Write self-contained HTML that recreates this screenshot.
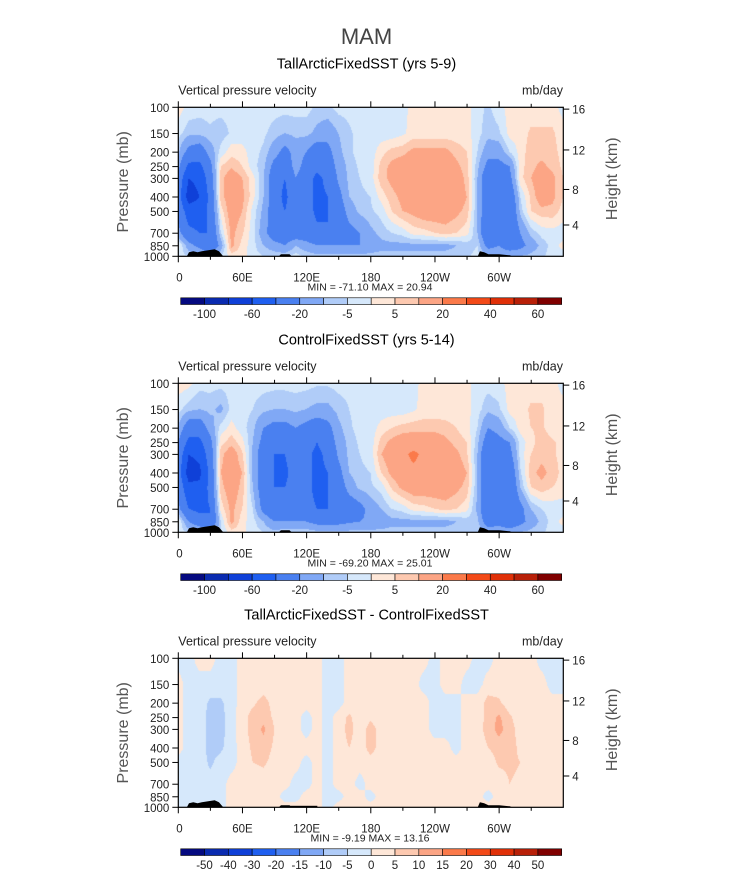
<!DOCTYPE html>
<html><head><meta charset="utf-8">
<style>
body{margin:0;background:#fff;width:733px;height:872px;overflow:hidden;position:relative;font-family:"Liberation Sans",sans-serif}
canvas{position:absolute}
svg{position:absolute;left:0;top:0}
</style></head>
<body>
<svg id="s" width="733" height="872"></svg>
<script>
const lons=[0,10,20,30,40,50,60,70,80,90,100,110,120,130,140,150,160,170,180,190,200,210,220,230,240,250,260,270,280,290,300,310,320,330,340,350,360];
const levels=[100,150,200,250,300,400,500,700,850,1000];
const levFull=[-100,-80,-60,-40,-20,-10,-5,0,5,10,20,30,40,50,60];
const levDiff=[-50,-40,-30,-20,-15,-10,-5,0,5,10,15,20,30,40,50];
const labFull=["-100","-60","-20","-5","5","20","40","60"];
const labFullIdx=[0,2,4,6,8,10,12,14];
const colors=["#050a80","#0a2bb0","#0f40d8","#1f5ff0","#4a80f0","#80a8f5","#b0ccf8","#d6e8fb","#fee7d8","#fdc9b0","#fca585","#fb7a4a","#f34a18","#e03008","#b82008","#800000"];
const xTicks=["0","60E","120E","180","120W","60W"];
const pTicks=[100,150,200,250,300,400,500,700,850,1000];
const hTicks=[4,8,12,16];
const stats=[["-71.10","20.94"],["-69.20","25.01"],["-9.19","13.16"]];
const p1=[
[3,-2,-3,-3,-3,-3,-3,-3,-3,-3,-3,-3,-3,-6,-6,-3,-3,-3,-2,-2,-2,-2,2,2,2,2,2,2,-3,-6,-2,2,2,2,2,2,-2],
[-3,-8,-8,-6,-8,-4,-3,-3,-4,-7,-10,-8,-8,-12,-15,-10,-6,-3,-3,-3,-3,-1,2,2,2,2,2,2,-3,-8,-6,2,2,6,6,6,2],
[-8,-25,-30,-15,-3,3,2,-3,-6,-15,-25,-15,-20,-30,-25,-12,-6,-3,-3,3,7,8,12,12,12,12,8,5,-5,-15,-15,-5,2,8,7,7,3],
[-15,-45,-45,-25,5,9,5,-3,-8,-25,-30,-15,-25,-35,-30,-15,-8,-4,-3,7,12,15,15,15,15,15,12,7,-8,-25,-25,-20,3,8,12,8,4],
[-25,-60,-55,-30,8,15,10,2,-10,-30,-40,-20,-30,-45,-35,-18,-8,-5,-3,8,12,15,15,15,15,15,15,8,-10,-35,-30,-25,3,10,15,12,5],
[-30,-70,-60,-35,8,15,12,2,-10,-30,-45,-25,-30,-45,-40,-25,-10,-6,-5,2,8,12,15,15,18,18,15,10,-10,-35,-35,-35,-5,6,15,12,5],
[-25,-50,-50,-35,2,15,10,-2,-12,-30,-40,-25,-30,-45,-40,-30,-15,-8,-6,-3,5,10,12,15,15,15,12,8,-10,-35,-35,-40,-8,5,8,8,3],
[-15,-35,-40,-40,-5,12,6,-3,-15,-30,-30,-30,-30,-35,-40,-30,-25,-20,-12,-8,-5,-3,2,3,5,7,5,2,-10,-40,-30,-40,-20,-8,-3,-2,-3],
[2,-15,-25,-40,-15,12,3,-3,-10,-15,-20,-10,-15,-20,-20,-20,-20,-20,-15,-12,-12,-12,-12,-12,-12,-12,-10,-8,-5,-25,-20,-30,-25,-15,-8,-3,2],
[-3,-5,-5,-10,-5,2,2,-3,-5,-6,-6,-3,-6,-8,-8,-8,-8,-8,-8,-8,-8,-8,-8,-8,-8,-8,-8,-6,-3,-10,-10,-10,-10,-8,-6,-3,-3]];
const p2=[
[3,2,-3,-3,-3,-3,-3,-3,-3,-3,-3,-3,-3,-4,-4,-3,-3,-3,-2,-2,-2,-2,-2,2,2,2,2,2,-3,-3,-2,2,2,2,2,2,-2],
[-3,-8,-10,-8,-12,-3,-3,-5,-8,-10,-10,-8,-10,-12,-12,-8,-5,-3,-3,-3,-3,-3,-1,2,2,2,2,2,-3,-8,-6,2,2,6,6,2,2],
[-10,-30,-30,-15,-3,2,-3,-8,-20,-25,-25,-20,-25,-30,-25,-12,-6,-3,-3,2,5,7,8,8,8,7,5,2,-5,-20,-15,-5,2,5,6,2,2],
[-20,-45,-45,-25,3,8,2,-10,-25,-35,-30,-25,-30,-40,-30,-15,-8,-4,-3,7,12,15,15,15,15,12,8,5,-8,-30,-25,-20,-3,3,8,6,3],
[-25,-60,-55,-30,8,15,6,-12,-30,-40,-40,-25,-35,-45,-35,-18,-8,-5,-3,10,15,18,22,18,15,15,12,6,-10,-40,-35,-25,-3,5,8,6,3],
[-30,-70,-65,-35,10,15,10,-12,-30,-40,-45,-30,-35,-45,-40,-25,-10,-6,-5,5,12,15,18,18,18,18,15,10,-10,-40,-40,-35,-6,8,12,8,3],
[-25,-55,-55,-35,8,15,8,-10,-30,-40,-40,-30,-35,-45,-40,-30,-15,-8,-6,-3,6,12,15,15,15,15,12,8,-10,-40,-40,-40,-10,5,8,5,3],
[-15,-40,-45,-40,2,12,5,-5,-25,-35,-35,-35,-35,-40,-40,-35,-30,-25,-15,-10,-5,-3,2,3,5,7,5,2,-12,-40,-35,-40,-25,-10,-5,-3,-3],
[2,-20,-30,-40,-5,12,2,-3,-10,-20,-20,-20,-20,-25,-25,-25,-22,-20,-18,-15,-12,-12,-12,-12,-12,-12,-10,-8,-8,-30,-25,-35,-25,-15,-8,-3,2],
[-3,-5,-8,-12,-5,3,2,-3,-5,-8,-6,-5,-6,-8,-8,-8,-8,-8,-8,-8,-8,-8,-8,-8,-8,-8,-8,-6,-5,-12,-12,-12,-10,-8,-6,-3,-3]];
const p3=[
[-2,-2,2,2,-2,-2,2,2,2,2,2,2,2,2,-2,-2,2,2,2,2,2,2,2,2,-2,2,2,2,-2,-2,2,2,2,2,-2,-2,-2],
[2,-2,-2,-2,-2,-2,2,2,2,2,2,2,2,2,-2,-2,2,2,2,2,2,2,2,-2,-2,2,2,-2,-2,2,2,2,2,2,2,-2,-2],
[2,-2,-2,-6,-6,-2,2,4,7,3,2,2,2,2,-2,-2,2,2,2,2,2,2,2,2,-2,-2,-2,2,2,7,6,2,2,2,2,2,2],
[2,-2,-2,-7,-7,-2,3,7,8,4,2,2,-2,2,-2,2,6,2,4,2,2,2,2,2,-2,-2,-2,2,2,7,11,6,2,2,2,2,2],
[2,-2,-2,-7,-7,-2,3,7,11,5,2,2,-2,2,-2,2,7,2,7,3,2,2,2,2,-2,-2,-2,2,3,7,12,7,3,2,2,2,2],
[2,-2,-2,-7,-6,-2,2,6,8,4,2,2,2,2,-2,2,5,2,7,3,2,2,2,2,2,2,-2,2,2,5,7,7,4,2,2,2,2],
[-2,-2,-2,-6,-3,-2,2,5,6,3,2,2,-2,2,-2,2,3,2,3,2,2,2,2,2,2,2,2,2,2,2,6,6,5,2,2,2,2],
[-2,-2,-2,-3,-2,2,2,2,2,2,2,-2,-2,2,-2,2,2,-2,2,2,2,2,2,2,2,2,3,2,2,2,2,5,4,2,2,2,2],
[-2,-2,-2,-5,-2,2,2,2,2,2,-2,-2,2,2,-2,-2,2,2,-2,2,2,2,2,2,2,2,2,2,2,-2,2,4,2,2,2,2,2],
[-2,-2,-2,-2,-2,2,2,2,2,2,2,2,2,2,-2,2,2,2,2,2,2,2,2,2,2,2,2,2,2,2,2,2,2,2,2,2,2]];

const X0=178.3,W=385,H=149;
const tops=[107.3,383.3,658.3];
const titles=["TallArcticFixedSST (yrs 5-9)","ControlFixedSST (yrs 5-14)","TallArcticFixedSST - ControlFixedSST"];
const grids=[p1,p2,p3];
const levs=[levFull,levFull,levDiff];
const NS="http://www.w3.org/2000/svg";
const svg=document.getElementById('s');
function mk(tag,attrs,parent){const e=document.createElementNS(NS,tag);for(const k in attrs)e.setAttribute(k,attrs[k]);(parent||svg).appendChild(e);return e;}
function txt(x,y,s,size,anchor,extra){const t=mk('text',Object.assign({x:x,y:y,'font-size':size,'text-anchor':anchor||'start',fill:'#000'},extra||{}));t.textContent=s;return t;}
const xScale=lon=>X0+lon/360*W;
const yScale=(p,top)=>top+Math.log(p/100)/Math.log(10)*H;
function isaP(h){return h<=11?1013.25*Math.pow(1-0.0065*h*1000/288.15,5.2559):226.32*Math.exp(-(h-11)/6.3416);}

let t=txt(366.5,44,"MAM",22,'middle',{fill:'#444'});



for(let k=0;k<3;k++){
  const top=tops[k],g=grids[k],lv=levs[k];
  const cv=document.createElement('canvas');
  cv.width=W;cv.height=Math.round(H);
  cv.style.left=X0+'px';cv.style.top=top+'px';
  
  
  document.body.insertBefore(cv,svg);
  const ctx=cv.getContext('2d');
  const lnl=levels.map(p=>Math.log(p));
  for(let py=0;py<cv.height;py++){
    const p=100*Math.pow(10,(py+0.5)/H);
    const lp=Math.log(p);
    let j=0;while(j<levels.length-2&&lnl[j+1]<lp)j++;
    let fy=(lp-lnl[j])/(lnl[j+1]-lnl[j]);fy=Math.max(0,Math.min(1,fy));
    for(let px=0;px<W;px++){
      const lon=(px+0.5)/W*360;
      let i=Math.min(lons.length-2,Math.floor(lon/10));
      const fx=(lon-lons[i])/10;
      const v=(g[j][i]*(1-fx)+g[j][i+1]*fx)*(1-fy)+(g[j+1][i]*(1-fx)+g[j+1][i+1]*fx)*fy;
      let c=0;while(c<lv.length&&v>=lv[c])c++;
      ctx.fillStyle=colors[c];ctx.fillRect(px,py,1,1);
    }
  }
  const bot=top+H;
  const topo=[[8,0],[10,4],[14,5],[18,4],[22,5],[28,6],[34,7],[38,5],[42,0]];
  const topo2=[[94,0],[96,2],[104,2],[106,0]];
  const topo3=[[280,0],[282,5],[286,4],[290,2],[300,2],[310,1],[312,0]];
  [topo,topo2,topo3].forEach(tp=>{
    const pts=tp.map(q=>xScale(q[0])+','+(bot-q[1])).join(' ');
    const pg=mk('polygon',{points:pts,fill:'#000'});
    
    
  });
  if(k==2){const r=mk('rect',{x:xScale(100),y:bot-1.5,width:xScale(130)-xScale(100),height:1.5,fill:'#000'});}
  const fr=mk('rect',{x:X0,y:top,width:W,height:H,fill:'none',stroke:'#000','stroke-width':1.2});
  
  
  t=txt(366.5,top-39,titles[k],14.5,'middle');
  
  
  t=txt(X0,top-13,"Vertical pressure velocity",12.5,'start',{fill:'#222'});
  
  
  t=txt(563,top-13,"mb/day",12.5,'end',{fill:'#222'});
  
  
  for(let d=0;d<360;d+=30){
    const x=xScale(d),len=(d%60==0)?6:3.5;
    mk('line',{x1:x,x2:x,y1:top,y2:top-len,stroke:'#000','stroke-width':1});
    mk('line',{x1:x,x2:x,y1:bot,y2:bot+len,stroke:'#000','stroke-width':1});
  }
  xTicks.forEach((s,i)=>{t=txt(xScale(i*60)+(i==0?-2:0),bot+25,s,11.5,i==0?'start':'middle',{fill:'#222'});
    
    });
  pTicks.forEach(p=>{const y=yScale(p,top);
    mk('line',{x1:X0,x2:X0-6,y1:y,y2:y,stroke:'#000'});
    t=txt(X0-9,y+4.5,String(p),11.5,'end',{fill:'#222'});
    
    });
  hTicks.forEach(h=>{const y=yScale(isaP(h),top);
    mk('line',{x1:X0+W,x2:X0+W+6,y1:y,y2:y,stroke:'#000'});
    t=txt(X0+W+9,y+4.5,String(h),11.5,'start',{fill:'#222'});
    
    });
  t=txt(0,0,"Pressure (mb)",16,'middle',{fill:'#555',transform:'translate(128,'+(top+H/2)+') rotate(-90)'});
  
  
  t=txt(0,0,"Height (km)",16,'middle',{fill:'#555',transform:'translate(617,'+(top+H/2-3)+') rotate(-90)'});
  
  
  t=txt(370,bot+34,"MIN =  "+stats[k][0]+"   MAX =  "+stats[k][1],10.5,'middle',{fill:'#222','xml:space':'preserve'});
  
  
  const cy=bot+41.5,bx=180.7,bw=(561.7-180.7)/16;
  for(let c=0;c<16;c++){
    const r=mk('rect',{x:bx+c*bw,y:cy,width:bw,height:6.7,fill:colors[c],stroke:'#000','stroke-width':0.6});
    
    
  }
  if(k<2){labFull.forEach((s,i)=>{t=txt(bx+(labFullIdx[i]+1)*bw,cy+20,s,11.5,'middle',{fill:'#222'});
    
    });}
  else{levDiff.forEach((v,i)=>{t=txt(bx+(i+1)*bw,cy+20,String(v),11.5,'middle',{fill:'#222'});
    
    });}
}
</script>
</body></html>
